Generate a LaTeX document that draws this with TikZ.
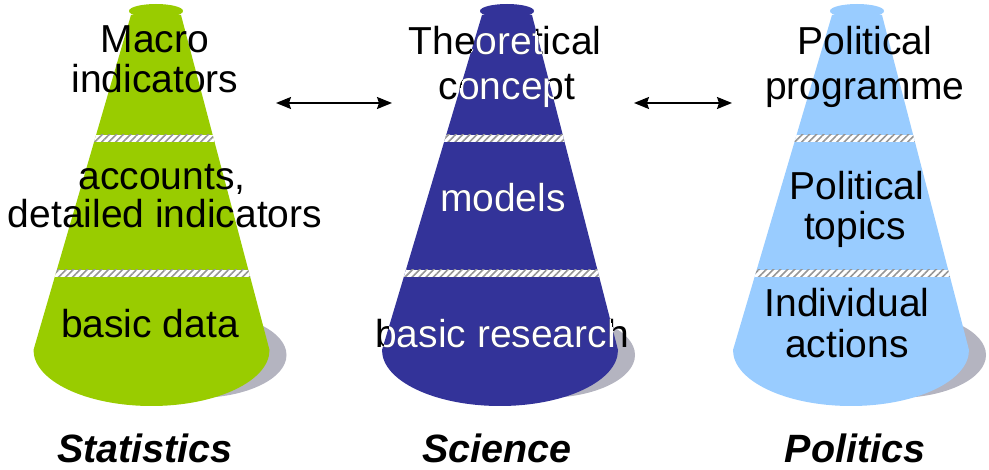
\documentclass[tikz,border=0pt]{standalone}
\usepackage{fontspec}
\setmainfont{Liberation Sans}
\usetikzlibrary{arrows.meta,patterns.meta}

\definecolor{statgreen}{RGB}{153,204,0}
\definecolor{scienceblue}{RGB}{51,51,153}
\definecolor{politicsblue}{RGB}{153,204,255}
\definecolor{shadowgray}{RGB}{180,180,192}
\definecolor{hatchgray}{RGB}{150,150,150}

% #1 top centre x, #2 base centre x
\newcommand\conebody[2]{%
  (#1-25,15) -- (#2-118,350)
  arc[start angle=180,end angle=0,x radius=118,y radius=56]
  -- (#1+25,15) -- cycle}
\newcommand\conelip[1]{(#1,11) ellipse[x radius=27,y radius=7]}

% one cone: #1 top x, #2 base x, #3 colour
\newcommand\drawcone[3]{%
  \fill[shadowgray] (#2+45,355) ellipse[x radius=90,y radius=43];
  \fill[#3] \conebody{#1}{#2};
  \fill[#3] \conelip{#1};
  \begin{scope}
    \clip \conebody{#1}{#2};
    \foreach \yy in {135,270}{
      \fill[white] (#2-140,\yy) rectangle (#2+140,\yy+7);
      \fill[pattern={Lines[angle=45,distance=5pt,line width=1.6pt]},
            pattern color=hatchgray] (#2-140,\yy) rectangle (#2+140,\yy+7);
    }
  \end{scope}}

% texts of the middle cone, #1 colour, #2 name suffix
\newcommand\sciencetexts[2]{%
  \node[lbl,text=#1] (sc1#2) at (505,55)  {Theoretical};
  \node[lbl,text=#1] (sc2#2) at (507,100) {concept};
  \node[lbl,text=#1] (sc3#2) at (503,212) {models};
  \node[lbl,text=#1] (sc4#2) at (502,348) {basic research};}

\begin{document}
\begin{tikzpicture}[x=1pt,y=-1pt,
  lbl/.style={font=\fontsize{39}{42}\selectfont,anchor=base,inner sep=0pt},
  title/.style={font=\fontsize{39.5}{42}\selectfont\bfseries\itshape,anchor=base,inner sep=0pt},
  link/.style={line width=1.6pt,{Stealth[length=15pt,width=12pt,inset=2pt]}-{Stealth[length=15pt,width=12pt,inset=2pt]}}]
  \useasboundingbox (0,0) rectangle (989,470);

  % cones
  \drawcone{156}{151.5}{statgreen}
  \drawcone{507}{500}{scienceblue}
  \drawcone{857}{851}{politicsblue}

  % statistics levels
  \node[lbl] (st1) at (155,53)  {Macro};
  \node[lbl] (st2) at (155,93)  {indicators};
  \node[lbl] (st3) at (162,190) {accounts,};
  \node[lbl] (st4) at (165,228) {detailed indicators};
  \node[lbl] (st5) at (150,338) {basic data};

  % science levels: dark off the cone, white on it
  \sciencetexts{black}{}
  \begin{scope}
    \clip \conebody{507}{500};
    \sciencetexts{white}{w}
  \end{scope}
  \begin{scope}
    \clip \conelip{507};
    \sciencetexts{white}{v}
  \end{scope}

  % politics levels
  \node[lbl] (po1) at (865,55)  {Political};
  \node[lbl] (po2) at (865,100) {programme};
  \node[lbl] (po3) at (857,200) {Political};
  \node[lbl] (po4) at (855,240) {topics};
  \node[lbl] (po5) at (847,317) {Individual};
  \node[lbl] (po6) at (847,358) {actions};

  % column titles
  \node[title] (tStat) at (145,463) {Statistics};
  \node[title] (tSci)  at (497,463) {Science};
  \node[title] (tPol)  at (855,463) {Politics};

  % links between the columns
  \coordinate (l1a) at (276,103);
  \coordinate (l1b) at (392,103);
  \coordinate (l2a) at (634,103);
  \coordinate (l2b) at (732,103);
  \draw[link] (l1a) -- (l1b);
  \draw[link] (l2a) -- (l2b);
\end{tikzpicture}
\end{document}
